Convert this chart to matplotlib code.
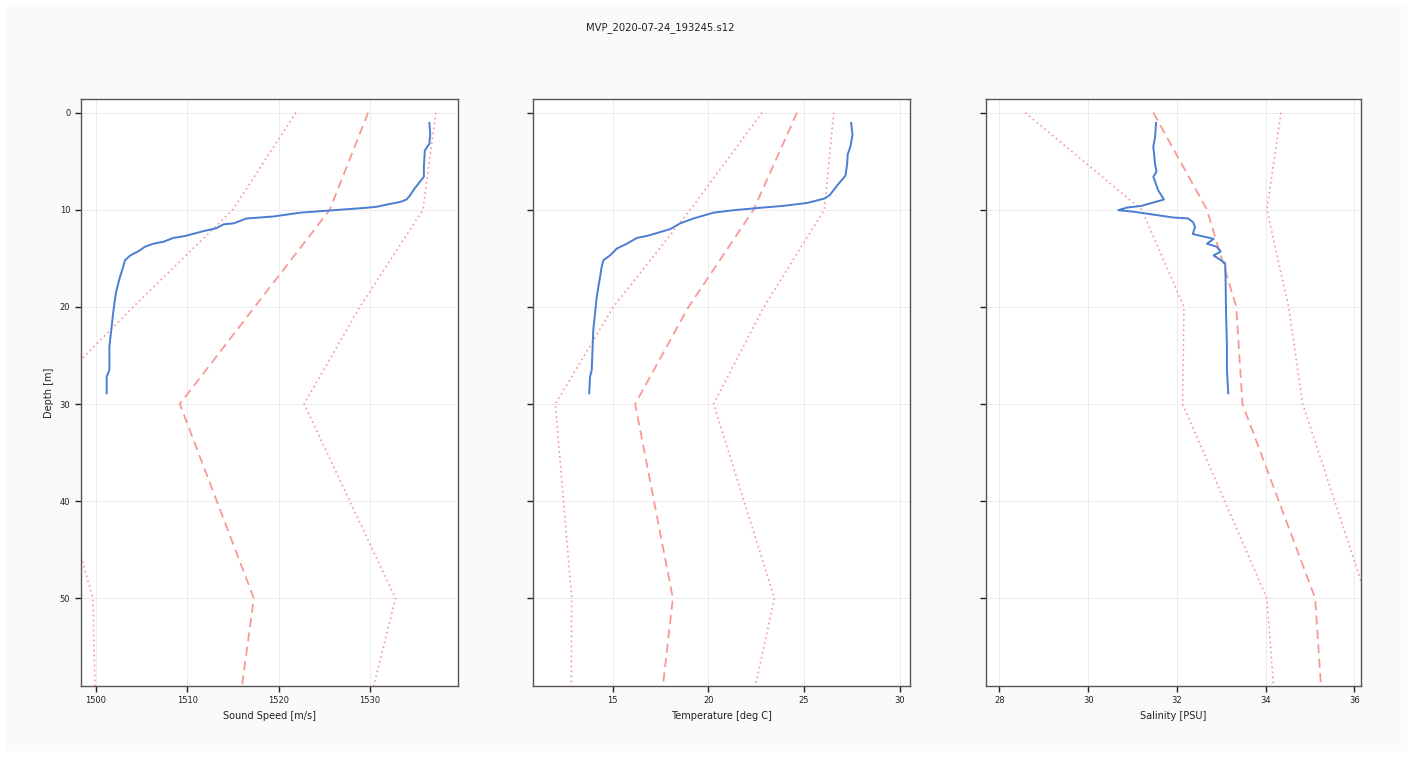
import numpy as np
import matplotlib
matplotlib.use("Agg")
import matplotlib.pyplot as plt
from matplotlib.patches import Rectangle

title = "MVP_2020-07-24_193245.s12"

# reference (climatology) depths and mean / lower / upper curves
ref_depth = [0, 10, 20, 30, 50, 75]
ss_mean = [1529.8, 1525.6, 1517.4, 1509.2, 1517.3, 1513.7]
ss_low = [1521.9, 1515.0, 1504.1, 1493.6, 1499.7, 1500.3]
ss_high = [1537.2, 1535.8, 1528.9, 1522.8, 1532.8, 1526.2]

t_mean = [24.63, 22.36, 18.96, 16.17, 18.14, 16.70]
t_low = [22.80, 19.05, 15.03, 12.00, 12.85, 12.80]
t_high = [26.55, 26.06, 22.90, 20.27, 23.45, 20.70]

s_mean = [31.47, 32.68, 33.34, 33.48, 35.12, 35.48]
s_low = [28.58, 31.21, 32.16, 32.13, 34.03, 34.45]
s_high = [34.35, 34.03, 34.52, 34.84, 36.28, 36.40]

# measured cast
ss_depth = [1.07, 2.16, 3.2, 3.9, 5.6, 6.6, 6.96, 7.8, 8.5, 8.95, 9.2, 9.4, 9.7, 9.8,
            10.05, 10.3, 10.7, 10.9, 11.4, 11.5, 11.9, 12.2, 12.7, 12.9, 13.3, 13.5,
            13.8, 14.2, 14.7, 15.2, 15.9, 17.1, 18.6, 20.7, 22.4, 24.1, 26.5, 27.2, 28.9]
ss_val = [1536.5, 1536.6, 1536.5, 1536.0, 1535.9, 1535.9, 1535.6, 1534.9, 1534.4,
          1534.0, 1533.3, 1532.2, 1530.7, 1529.6, 1526.0, 1522.4, 1519.4, 1516.5,
          1515.1, 1514.0, 1513.2, 1511.8, 1509.8, 1508.5, 1507.4, 1506.3, 1505.4,
          1504.8, 1503.8, 1503.2, 1503.0, 1502.6, 1502.2, 1501.9, 1501.7, 1501.5,
          1501.5, 1501.2, 1501.2]

t_depth = [1.07, 2.3, 3.5, 4.3, 5.3, 6.5, 7.5, 8.5, 8.85, 9.3, 9.6, 9.8, 10.05, 10.3,
           10.9, 11.4, 12.0, 12.3, 12.7, 12.9, 13.5, 14.0, 14.7, 15.2, 15.9, 19.0,
           22.4, 26.5, 27.2, 28.9]
t_val = [27.46, 27.53, 27.42, 27.28, 27.25, 27.16, 26.73, 26.34, 26.06, 25.16, 23.93,
         22.71, 21.31, 20.27, 19.22, 18.52, 18.00, 17.48, 16.78, 16.26, 15.73, 15.21,
         14.86, 14.51, 14.42, 14.16, 13.98, 13.90, 13.81, 13.77]

s_depth = [1.07, 2.5, 3.5, 5.3, 6.1, 6.6, 8.0, 8.95, 9.5, 9.6, 9.78, 10.05, 10.2, 10.5,
           10.8, 10.9, 11.3, 11.8, 12.5, 13.0, 13.5, 13.8, 14.3, 14.7, 15.5, 17.3,
           20.7, 24.1, 26.5, 28.9]
s_val = [31.53, 31.51, 31.47, 31.51, 31.54, 31.47, 31.58, 31.71, 31.28, 31.21, 30.87,
         30.68, 31.02, 31.47, 31.92, 32.26, 32.37, 32.41, 32.36, 32.83, 32.68, 32.90,
         32.99, 32.83, 33.09, 33.10, 33.11, 33.13, 33.13, 33.16]

W, H = 1413, 757
fig = plt.figure(figsize=(W / 100, H / 100), dpi=100, facecolor="white")
fig.patches.append(Rectangle((7 / W, 7 / H), (1406 - 7) / W, (750 - 7) / H,
                             transform=fig.transFigure, color="#fafafa", zorder=-10))

bottom = 1 - 685.7 / H
height = (685.7 - 99) / H
lefts = [80.7, 533, 985.7]
rights = [457.7, 909.7, 1361.3]

blue = "#4a7dd3"
red = "#f89a93"

panels = [
    (ss_depth, ss_val, ss_mean, ss_low, ss_high, "Sound Speed [m/s]", (1498.36, 1539.6), [1500, 1510, 1520, 1530]),
    (t_depth, t_val, t_mean, t_low, t_high, "Temperature [deg C]", (10.83, 30.52), [15, 20, 25, 30]),
    (s_depth, s_val, s_mean, s_low, s_high, "Salinity [PSU]", (27.69, 36.16), [28, 30, 32, 34, 36]),
]

for i, (d, v, m, lo, hi, xlabel, xlim, xticks) in enumerate(panels):
    ax = fig.add_axes([lefts[i] / W, bottom, (rights[i] - lefts[i]) / W, height])
    ax.set_facecolor("white")
    ax.plot(m, ref_depth, color=red, ls=(0, (5, 3)), lw=1.3)
    ax.plot(lo, ref_depth, color=red, ls=(0, (1, 2)), lw=1.2)
    ax.plot(hi, ref_depth, color=red, ls=(0, (1, 2)), lw=1.2)
    ax.plot(v, d, color=blue, lw=1.4)
    ax.set_xlim(xlim)
    ax.set_ylim(59.0, -1.4)
    ax.set_xticks(xticks)
    ax.set_yticks([0, 10, 20, 30, 40, 50])
    ax.grid(True, color="#ececec", lw=0.7)
    ax.set_axisbelow(True)
    ax.tick_params(labelsize=6, length=4, width=1, color="#222222", labelcolor="#222222")
    ax.set_xlabel(xlabel, fontsize=7, color="#222222")
    for s in ax.spines.values():
        s.set_color("#555555")
        s.set_linewidth(1)
    if i == 0:
        ax.set_ylabel("Depth [m]", fontsize=7, color="#222222")
    else:
        ax.tick_params(labelleft=False)

fig.text(660 / W, 1 - 28 / H, title, ha="center", va="center", fontsize=7.2, color="#222222")

fig.savefig("out.png", dpi=100, facecolor=fig.get_facecolor())
